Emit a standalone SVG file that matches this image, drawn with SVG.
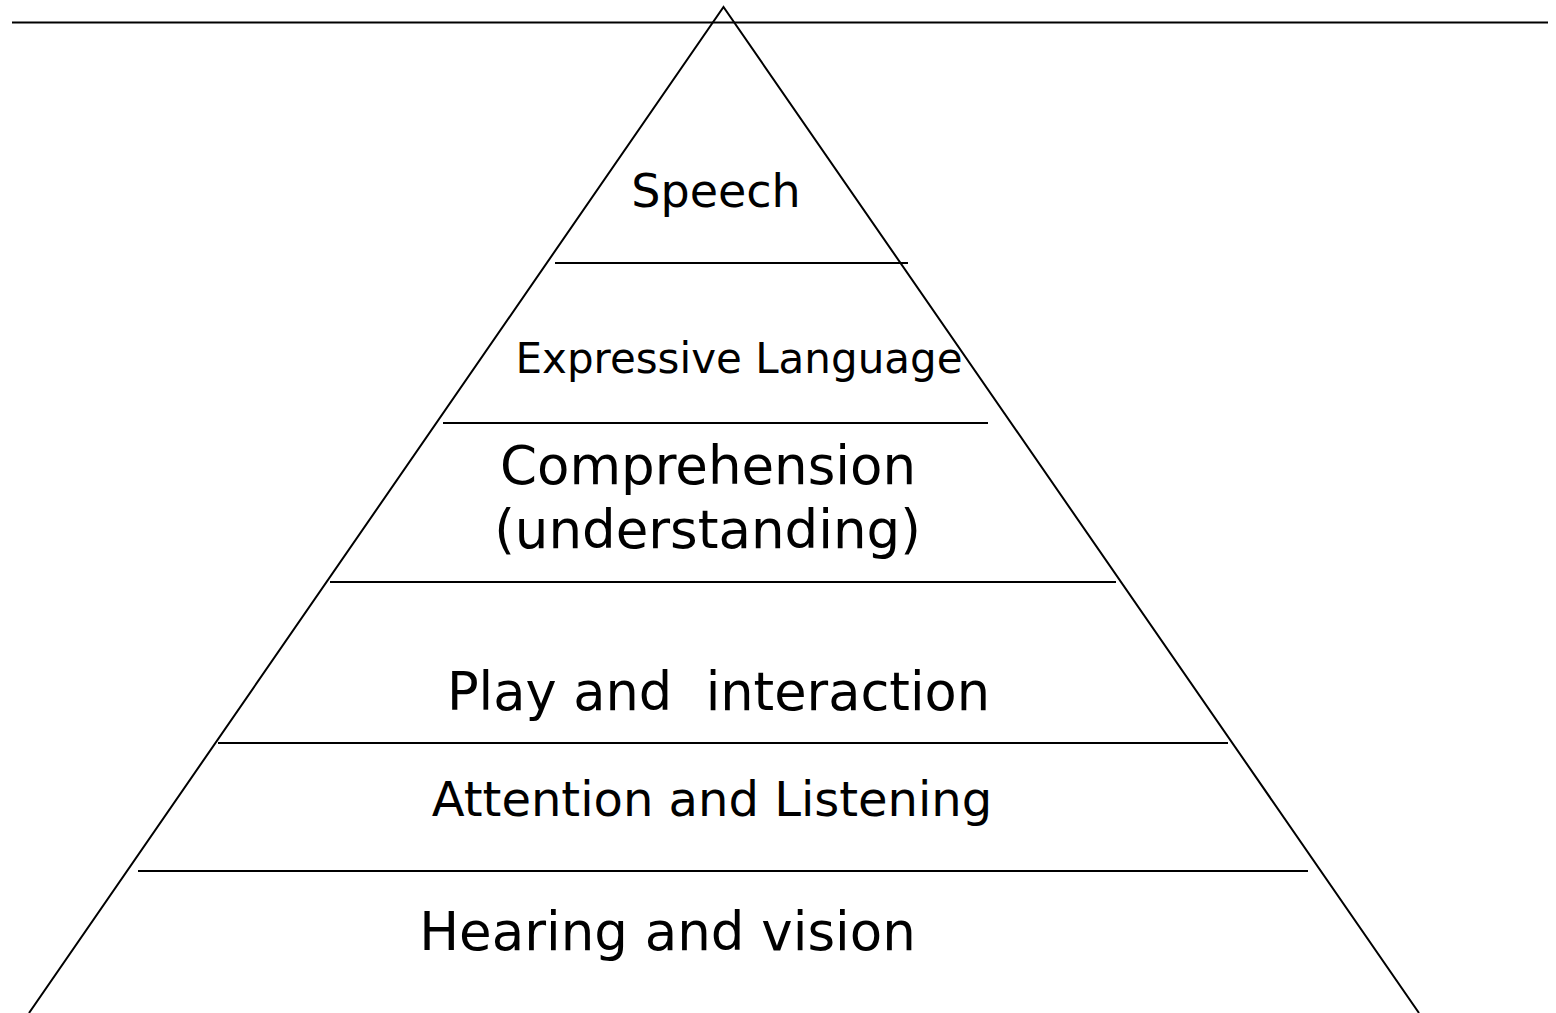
<svg xmlns="http://www.w3.org/2000/svg" width="1556" height="1013" viewBox="0 0 1556 1013">
<style>
.ln{stroke:#000;stroke-width:2;fill:none}
.t{font-family:"DejaVu Sans","Verdana",sans-serif;fill:#000;text-anchor:middle}
</style>
<rect width="1556" height="1013" fill="#fff"/>
<g id="frame">
<line class="ln" x1="12" y1="22.5" x2="1548" y2="22.5" stroke-width="2.5"/>
<polyline class="ln" points="29,1013 723.5,7 1419,1013"/>
</g>
<g id="connectors">
<line class="ln" x1="555" y1="263" x2="908" y2="263"/>
<line class="ln" x1="443" y1="423" x2="988" y2="423"/>
<line class="ln" x1="330" y1="582" x2="1116" y2="582"/>
<line class="ln" x1="218" y1="743" x2="1228" y2="743"/>
<line class="ln" x1="138" y1="871" x2="1308" y2="871"/>
</g>
<g id="speech"><text class="t" x="716" y="207" font-size="46">Speech</text></g>
<g id="expressive"><text class="t" x="739" y="373" font-size="42">Expressive Language</text></g>
<g id="comprehension"><text class="t" x="708" y="484" font-size="53">Comprehension</text><text class="t" x="707.5" y="548" font-size="53">(understanding)</text></g>
<g id="play"><text class="t" x="718.5" y="710" font-size="52.6" xml:space="preserve">Play and  interaction</text></g>
<g id="attention"><text class="t" x="712" y="816" font-size="48">Attention and Listening</text></g>
<g id="hearing"><text class="t" x="667.5" y="950" font-size="53">Hearing and vision</text></g>
</svg>
